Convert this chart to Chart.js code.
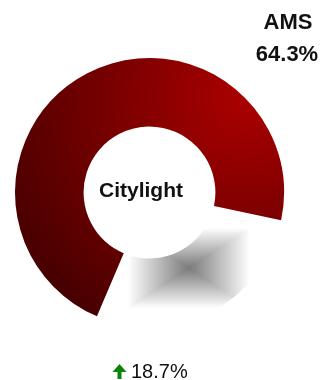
<!DOCTYPE html>
<html>
<head>
<meta charset="utf-8">
<title>Citylight</title>
<script src="https://cdn.jsdelivr.net/npm/chart.js@4.4.1/dist/chart.umd.min.js"></script>
<style>
  body { margin: 0; background: #fff; font-family: "Liberation Sans", Arial, sans-serif; }
  #wrap { position: relative; width: 321px; height: 380px; overflow: hidden; }
  #myChart { position: absolute; left: 0; top: 0; }
  .label { position: absolute; color: #111; white-space: nowrap; transform: translateX(-50%); }
  #segName { left: 288px; top: 11px; font: bold 22px/22px "Liberation Sans", Arial, sans-serif; }
  #segShare { left: 287px; top: 43px; font: bold 22px/22px "Liberation Sans", Arial, sans-serif; }
  #centerTitle { left: 141px; top: 179px; font: bold 21px/21px "Liberation Sans", Arial, sans-serif; }
  #change { position: absolute; left: 112px; top: 361px; font: 20px/20px "Liberation Sans", Arial, sans-serif; color: #111; white-space: nowrap; }
  #change svg { position: absolute; left: 0; top: 3px; }
  #change span { margin-left: 19px; }
</style>
</head>
<body>
<div id="wrap">
  <canvas id="myChart" width="321" height="380"></canvas>
  <div id="segName" class="label"></div>
  <div id="segShare" class="label"></div>
  <div id="centerTitle" class="label"></div>
  <div id="change">
    <svg width="15" height="15" viewBox="0 0 15 15"><polygon points="7.5,0 14.5,8 9.5,8 9.5,15 5.5,15 5.5,8 0.5,8" fill="#0b820b"/></svg>
    <span id="changeValue"></span>
  </div>
</div>
<script>
// ring segments: AMS share and the remainder
const segmentLabels = ["AMS", "Rest"];
const segmentValues = [64.3, 25.1];
const centerTitle = "Citylight";
const changeValue = 18.7;
const startAngle = 203; // chart.js rotation, degrees from 12 o'clock

const myChart = document.getElementById("myChart");

document.getElementById("segName").textContent = segmentLabels[0];
document.getElementById("segShare").textContent = segmentValues[0].toFixed(1) + "%";
document.getElementById("centerTitle").textContent = centerTitle;
document.getElementById("changeValue").textContent = changeValue.toFixed(1) + "%";

function ringGeometry(chart) {
  const area = chart.chartArea;
  const ctrl = chart.getDatasetMeta(0).controller;
  return {
    x: (area.left + area.right) / 2 + (ctrl.offsetX || 0),
    y: (area.top + area.bottom) / 2 + (ctrl.offsetY || 0),
    outer: ctrl.outerRadius,
    inner: ctrl.innerRadius,
  };
}

function midAngle(index) {
  const total = segmentValues.reduce((s, v) => s + v, 0);
  let start = (startAngle - 90) * Math.PI / 180;
  for (let i = 0; i < index; i++) {
    start += segmentValues[i] / total * 2 * Math.PI;
  }
  return start + segmentValues[index] / total * Math.PI;
}

// dark red, brightest at the upper right of the ring
function redFill(chart, ring) {
  const a = -Math.PI / 4;
  const gx = ring.x + ring.outer * Math.cos(a);
  const gy = ring.y + ring.outer * Math.sin(a);
  const g = chart.ctx.createRadialGradient(gx, gy, 0, gx, gy, ring.outer * 2);
  g.addColorStop(0, "#ab0000");
  g.addColorStop(1, "#470000");
  return g;
}

// soft grey box that fades out to white inside the segment
function grayFill(chart, ring, index) {
  const hw = Math.round(ring.outer * 0.45);
  const hh = Math.round(ring.outer * 0.3);
  const off = document.createElement("canvas");
  off.width = hw * 2;
  off.height = hh * 2;
  const c = off.getContext("2d");
  const img = c.createImageData(off.width, off.height);
  for (let y = 0; y < off.height; y++) {
    for (let x = 0; x < off.width; x++) {
      const t = Math.min(1, Math.max(Math.abs(x + 0.5 - hw) / hw, Math.abs(y + 0.5 - hh) / hh));
      const v = Math.round(122 + (255 - 122) * t);
      const p = (y * off.width + x) * 4;
      img.data[p] = v;
      img.data[p + 1] = v;
      img.data[p + 2] = v;
      img.data[p + 3] = 255;
    }
  }
  c.putImageData(img, 0, 0);

  const a = midAngle(index);
  const r = ring.inner + (ring.outer - ring.inner) * 0.28;
  const bx = ring.x + r * Math.cos(a);
  const by = ring.y + r * Math.sin(a);
  const pattern = chart.ctx.createPattern(off, "no-repeat");
  pattern.setTransform(new DOMMatrix().translate(Math.round(bx - hw), Math.round(by - hh)));
  return pattern;
}

function segmentColor(ctx) {
  const chart = ctx.chart;
  const ctrl = chart.getDatasetMeta(0).controller;
  if (!chart.chartArea || !ctrl.outerRadius) return "#800000";
  const ring = ringGeometry(chart);
  return ctx.dataIndex === 0 ? redFill(chart, ring) : grayFill(chart, ring, ctx.dataIndex);
}

new Chart(myChart, {
  type: "doughnut",
  data: {
    labels: segmentLabels,
    datasets: [
      {
        data: segmentValues,
        backgroundColor: segmentColor,
        hoverBackgroundColor: segmentColor,
        borderWidth: 0,
        hoverOffset: 0,
      },
    ],
  },
  options: {
    responsive: false,
    animation: false,
    cutout: "49%",
    rotation: startAngle,
    layout: { padding: { left: 15, right: 37, top: 58, bottom: 53 } },
    events: [],
    plugins: {
      legend: { display: false },
      tooltip: { enabled: false },
    },
  },
});
</script>
</body>
</html>
